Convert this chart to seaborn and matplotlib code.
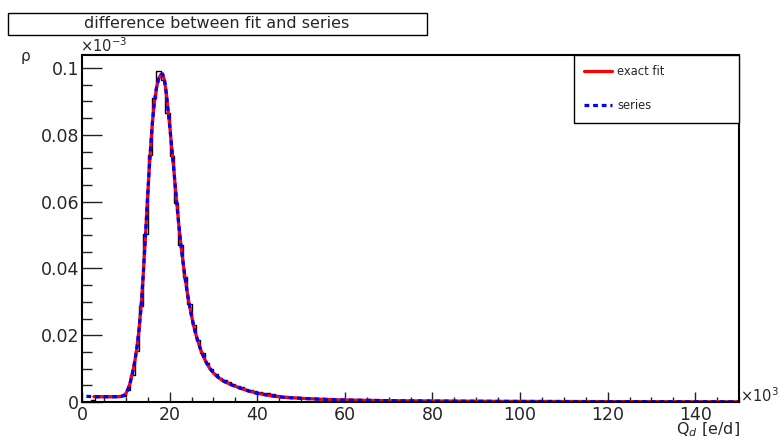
import numpy as np
import pandas as pd
import matplotlib
matplotlib.use("Agg")
import matplotlib.pyplot as plt
from matplotlib.ticker import MultipleLocator, FuncFormatter
from matplotlib.patches import Rectangle
import seaborn as sns

# Charge deposit Q_d in units of 10^3 e/d, density rho in units of 10^-3
bin_width = 1.0
q_range = (0.0, 150.0)
hist_rho = [
    0.0000, 0.0000, 0.0005, 0.0016, 0.0016, 0.0016, 0.0016, 0.0016, 0.0016, 0.0017,
    0.0036, 0.0081, 0.0154, 0.0287, 0.0503, 0.0740, 0.0911, 0.0991, 0.0964, 0.0866,
    0.0737, 0.0597, 0.0470, 0.0375, 0.0292, 0.0230, 0.0185, 0.0146, 0.0118, 0.0098,
    0.0084, 0.0073, 0.0065, 0.0059, 0.0054, 0.0049, 0.0044, 0.0040, 0.0036, 0.0032,
    0.0029, 0.0028, 0.0026, 0.0024, 0.0021, 0.0019, 0.0017, 0.0016, 0.0015, 0.0014,
    0.0013, 0.0012, 0.0011, 0.0010, 0.0009, 0.0009, 0.0008, 0.0008, 0.0007, 0.0007,
    0.0007, 0.0006, 0.0006, 0.0006, 0.0005, 0.0005, 0.0005, 0.0005, 0.0004, 0.0004,
    0.0004, 0.0004, 0.0004, 0.0003, 0.0003, 0.0003, 0.0003, 0.0003, 0.0003, 0.0003,
    0.0003, 0.0002, 0.0002, 0.0002, 0.0002, 0.0002, 0.0002, 0.0002, 0.0002, 0.0002,
    0.0002, 0.0002, 0.0002, 0.0002, 0.0002, 0.0002, 0.0002, 0.0001, 0.0002, 0.0001,
    0.0001, 0.0001, 0.0001, 0.0001, 0.0001, 0.0001, 0.0001, 0.0001, 0.0001, 0.0001,
    0.0001, 0.0001, 0.0001, 0.0001, 0.0001, 0.0001, 0.0001, 0.0001, 0.0001, 0.0001,
    0.0001, 0.0001, 0.0001, 0.0001, 0.0001, 0.0001, 0.0001, 0.0001, 0.0001, 0.0001,
    0.0001, 0.0001, 0.0001, 0.0001, 0.0001, 0.0001, 0.0001, 0.0001, 0.0001, 0.0001,
    0.0001, 0.0001, 0.0001, 0.0001, 0.0001, 0.0001, 0.0001, 0.0001, 0.0001, 0.0001,
]

fit_q = [2.7, 4.0, 6.0, 8.0, 9.0, 9.6, 10.0, 10.5, 11.0, 11.5, 12.0, 12.5, 13.0, 13.5,
         14.0, 14.5, 15.0, 15.5, 16.0, 16.5, 17.0, 17.5, 18.0, 18.4, 18.8, 19.2, 19.6,
         20.0, 20.5, 21.0, 21.5, 22.0, 22.5, 23.0, 23.5, 24.0, 24.5, 25.0, 25.5, 26.0,
         27.0, 28.0, 29.0, 30.0, 31.0, 32.0, 33.0, 34.0, 36.0, 38.0, 40.0, 43.0, 46.0,
         50.0, 55.0, 60.0, 70.0, 80.0, 95.0, 115.0, 150.0]
fit_rho = [0.0016, 0.0016, 0.0016, 0.0016, 0.0017, 0.0020, 0.0025, 0.0038, 0.0058,
           0.0085, 0.0118, 0.0158, 0.0215, 0.0285, 0.0385, 0.0500, 0.0620, 0.0730,
           0.0825, 0.0895, 0.0940, 0.0968, 0.0980, 0.0982, 0.0965, 0.0930, 0.0880,
           0.0830, 0.0760, 0.0690, 0.0615, 0.0545, 0.0480, 0.0425, 0.0375, 0.0330,
           0.0292, 0.0258, 0.0228, 0.0202, 0.0160, 0.0128, 0.0104, 0.0087, 0.0075,
           0.0065, 0.0058, 0.0052, 0.0042, 0.0033, 0.0026, 0.0019, 0.0014, 0.0011,
           0.0008, 0.0006, 0.0004, 0.0003, 0.0002, 0.00013, 0.00007]

series_q = [1.0] + fit_q
series_rho = [0.0017] + fit_rho

y_ticks = [0.0, 0.02, 0.04, 0.06, 0.08, 0.1]
x_ticks = [0, 20, 40, 60, 80, 100, 120, 140]

sns.set_style("ticks")
plt.rcParams["font.family"] = ["DejaVu Sans"]
plt.rcParams["mathtext.fontset"] = "dejavusans"

W, H = 778, 436
fig = plt.figure(figsize=(W / 100, H / 100), dpi=100)
ax = fig.add_axes([82 / W, (H - 402) / H, (739 - 82) / W, (402 - 55) / H])

n_bins = len(hist_rho)
centers = [q_range[0] + bin_width * (i + 0.5) for i in range(n_bins)]
hist_df = pd.DataFrame({"q": centers, "rho": hist_rho})
sns.histplot(data=hist_df, x="q", weights="rho", binwidth=bin_width,
             binrange=q_range, element="step", fill=False, color="black",
             linewidth=1.0, ax=ax)

fit_df = pd.DataFrame({"q": fit_q, "rho": fit_rho})
series_df = pd.DataFrame({"q": series_q, "rho": series_rho})
sns.lineplot(data=fit_df, x="q", y="rho", color="#ff0000", linewidth=2.3,
             label="exact fit", ax=ax, sort=False)
sns.lineplot(data=series_df, x="q", y="rho", color="#0000ff", linewidth=2.3,
             label="series", ax=ax, sort=False)
ax.lines[-1].set_dashes((1.5, 1.2))

ax.set_xlim(0, 150)
ax.set_ylim(0, 0.1039)
ax.set_xlabel("")
ax.set_ylabel("")

ax.xaxis.set_major_locator(plt.FixedLocator(x_ticks))
ax.xaxis.set_minor_locator(MultipleLocator(5))
ax.yaxis.set_major_locator(plt.FixedLocator(y_ticks))
ax.yaxis.set_minor_locator(MultipleLocator(0.005))
ax.yaxis.set_major_formatter(FuncFormatter(lambda v, p: f"{v:g}"))
ax.xaxis.set_major_formatter(FuncFormatter(lambda v, p: f"{v:g}"))

ax.tick_params(axis="both", which="both", direction="in", color="#222222",
               width=1.0, labelsize=12.5)
ax.tick_params(axis="y", which="major", length=14.4, pad=2)
ax.tick_params(axis="y", which="minor", length=7.2)
ax.tick_params(axis="x", which="major", length=7.2, pad=3)
ax.tick_params(axis="x", which="minor", length=3.6)
ax.tick_params(top=False, right=False, which="both")

for side in ["left", "bottom", "top", "right"]:
    ax.spines[side].set_visible(True)
    ax.spines[side].set_color("black")
    ax.spines[side].set_linewidth(1.5)

leg = ax.legend(bbox_to_anchor=(0.749, 0.812, 0.251, 0.188), loc="upper left",
                mode="expand", borderaxespad=0, fancybox=False, frameon=True,
                edgecolor="black", fontsize=8.3, handlelength=2.4,
                handletextpad=0.45, labelspacing=1.8, borderpad=0.9)
leg.get_frame().set_linewidth(1.0)
leg.get_frame().set_alpha(1)
leg.get_lines()[-1].set_dashes((1.5, 1.2))

# Title box
fig.patches.append(Rectangle((8 / W, (H - 35) / H), (427 - 8) / W, 22 / H,
                             transform=fig.transFigure, facecolor="white",
                             edgecolor="black", linewidth=1.0))
fig.text(217 / W, (H - 24) / H, "difference between fit and series",
         ha="center", va="center", fontsize=11.5)

fig.text(80 / W, (H - 52) / H, r"$\times10^{-3}$", ha="left", va="baseline",
         fontsize=10.5)
fig.text(740 / W, (H - 402) / H, r"$\times10^{3}$", ha="left", va="baseline",
         fontsize=10.5)
fig.text(25 / W, (H - 56) / H, "ρ", ha="center", va="center", fontsize=11)
fig.text(740 / W, (H - 421) / H, r"Q$_{d}$ [e/d]", ha="right", va="top",
         fontsize=11.5)

fig.savefig("out.png", dpi=100)
